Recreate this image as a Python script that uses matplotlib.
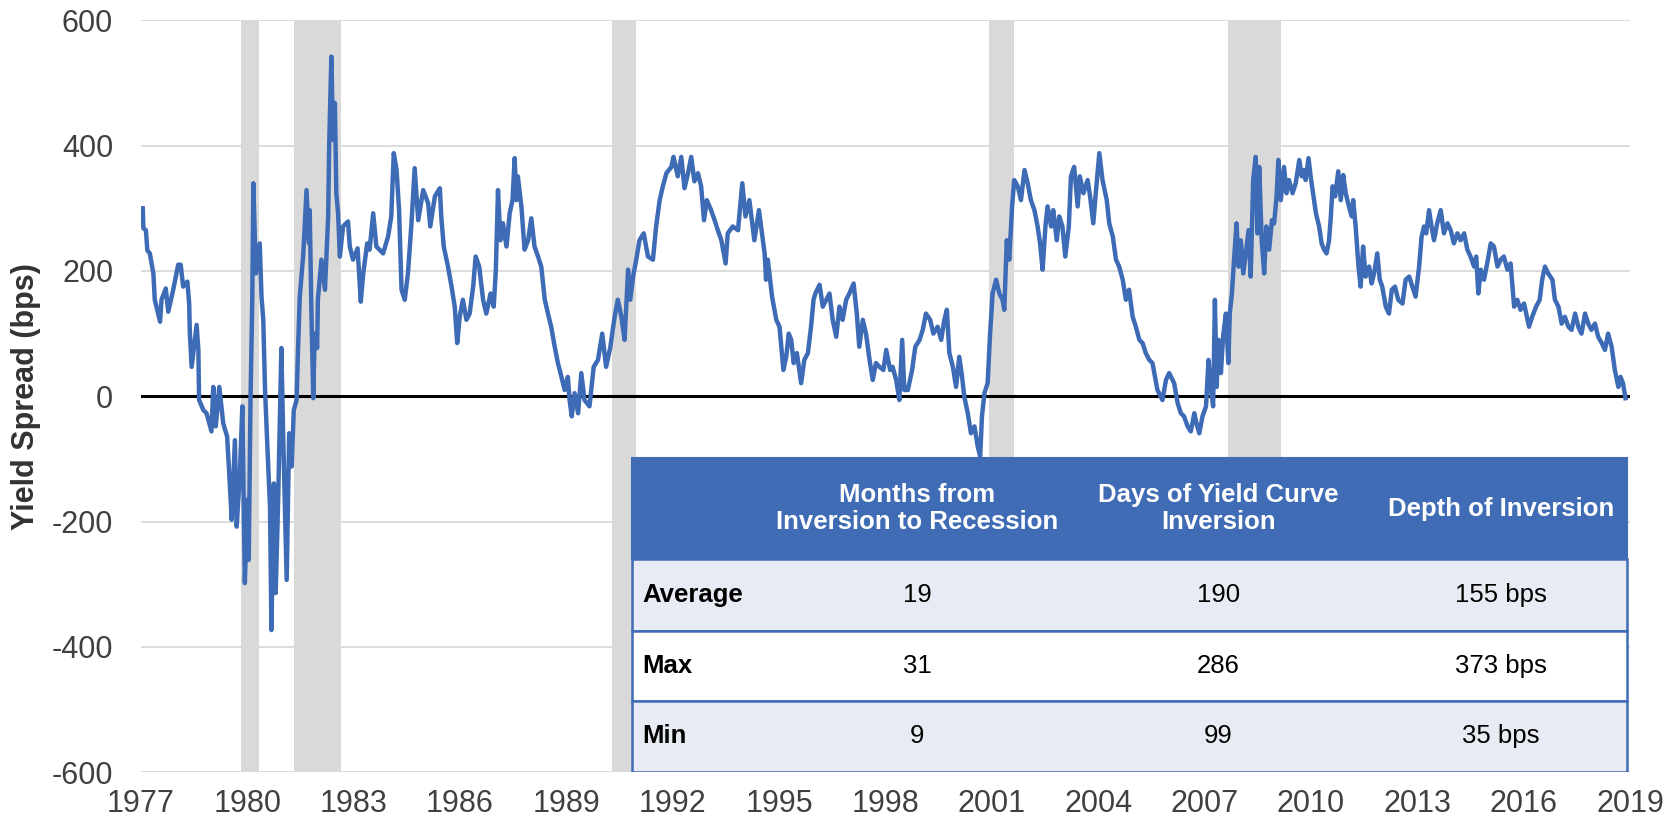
import matplotlib
matplotlib.use("Agg")
import matplotlib.pyplot as plt
from matplotlib.patches import Rectangle

plt.rcParams['font.family'] = ['Liberation Sans', 'DejaVu Sans']
plt.rcParams['axes.unicode_minus'] = False

# yield spread (bps)
years = [
    1977.05, 1977.07, 1977.14, 1977.18, 1977.25, 1977.35, 1977.39, 1977.54, 1977.58, 1977.70,
    1977.77, 1977.91, 1978.05, 1978.12, 1978.19, 1978.31, 1978.36, 1978.38, 1978.43, 1978.57,
    1978.62, 1978.64, 1978.76, 1978.85, 1978.99, 1979.04, 1979.11, 1979.21, 1979.32, 1979.43,
    1979.49, 1979.56, 1979.65, 1979.70, 1979.79, 1979.86, 1979.93, 1980.00, 1980.04, 1980.09,
    1980.14, 1980.17, 1980.24, 1980.35, 1980.40, 1980.45, 1980.50, 1980.57, 1980.64, 1980.68,
    1980.75, 1980.80, 1980.87, 1980.96, 1981.01, 1981.11, 1981.18, 1981.25, 1981.31, 1981.39,
    1981.43, 1981.48, 1981.58, 1981.67, 1981.74, 1981.76, 1981.81, 1981.86, 1981.90, 1981.97,
    1981.99, 1982.09, 1982.19, 1982.28, 1982.31, 1982.37, 1982.42, 1982.47, 1982.51, 1982.56,
    1982.61, 1982.70, 1982.84, 1982.89, 1982.98, 1983.11, 1983.20, 1983.27, 1983.38,
    1983.45, 1983.55, 1983.64, 1983.83, 1983.97, 1984.06, 1984.13, 1984.21, 1984.28, 1984.35,
    1984.44, 1984.53, 1984.63, 1984.72, 1984.82, 1984.96, 1985.10, 1985.16, 1985.29, 1985.43,
    1985.47, 1985.54, 1985.66, 1985.76, 1985.85, 1985.92, 1985.99, 1986.08, 1986.18, 1986.27,
    1986.37, 1986.44, 1986.54, 1986.65, 1986.74, 1986.86, 1986.95, 1987.01, 1987.07, 1987.14,
    1987.21, 1987.31, 1987.40, 1987.48, 1987.54, 1987.59, 1987.63, 1987.73, 1987.82, 1987.92,
    1988.01, 1988.10, 1988.20, 1988.29, 1988.39, 1988.48, 1988.57, 1988.67, 1988.76, 1988.86,
    1988.95, 1989.04, 1989.09, 1989.15, 1989.23, 1989.33, 1989.42, 1989.51, 1989.65, 1989.77,
    1989.89, 1990.01, 1990.12, 1990.24, 1990.36, 1990.45, 1990.55, 1990.64, 1990.74, 1990.80,
    1990.88, 1990.97, 1991.06, 1991.18, 1991.30, 1991.44, 1991.53, 1991.63, 1991.72, 1991.82,
    1991.96, 1992.02, 1992.14, 1992.24, 1992.33, 1992.43, 1992.52, 1992.61, 1992.71, 1992.80,
    1992.88, 1992.96, 1993.08, 1993.18, 1993.27, 1993.37, 1993.49, 1993.55, 1993.69, 1993.84,
    1993.96, 1994.05, 1994.16, 1994.30, 1994.43, 1994.49,
    1994.59, 1994.63, 1994.68, 1994.80, 1994.92, 1995.01, 1995.12, 1995.20, 1995.27, 1995.34,
    1995.41, 1995.50, 1995.62, 1995.71, 1995.81, 1995.90, 1995.97, 1996.02, 1996.14, 1996.23,
    1996.33, 1996.42, 1996.51, 1996.61, 1996.70, 1996.79, 1996.89, 1996.98, 1997.10, 1997.19,
    1997.26, 1997.36, 1997.45, 1997.55, 1997.64, 1997.73, 1997.83, 1997.94, 1998.02, 1998.13,
    1998.20, 1998.30, 1998.39, 1998.47, 1998.53, 1998.63, 1998.75, 1998.84, 1998.96, 1999.05,
    1999.14, 1999.26, 1999.35, 1999.47, 1999.57, 1999.66, 1999.73, 1999.80, 1999.90, 1999.99,
    2000.08, 2000.16, 2000.22, 2000.32, 2000.41, 2000.51, 2000.60, 2000.67, 2000.72, 2000.79,
    2000.88, 2000.95, 2001.02, 2001.12, 2001.21, 2001.30, 2001.35, 2001.42, 2001.49, 2001.57,
    2001.63, 2001.73, 2001.82, 2001.92, 2002.01, 2002.10, 2002.20, 2002.29, 2002.36, 2002.43,
    2002.51, 2002.57, 2002.67, 2002.73, 2002.83, 2002.90, 2002.99, 2003.07, 2003.17, 2003.23,
    2003.32, 2003.42, 2003.48, 2003.58, 2003.70, 2003.77, 2003.86, 2003.93, 2004.03, 2004.12,
    2004.24, 2004.31, 2004.41, 2004.50, 2004.59, 2004.69, 2004.78, 2004.87, 2004.97, 2005.06,
    2005.16, 2005.25, 2005.34, 2005.44, 2005.53, 2005.67,
    2005.81, 2005.91, 2006.00, 2006.14, 2006.24, 2006.33, 2006.42, 2006.52, 2006.61, 2006.71,
    2006.77, 2006.85, 2006.94, 2007.04, 2007.11, 2007.18, 2007.24, 2007.29, 2007.34, 2007.39,
    2007.46, 2007.52, 2007.60, 2007.67, 2007.71, 2007.77, 2007.83, 2007.90, 2007.96, 2008.02,
    2008.09, 2008.16, 2008.24, 2008.30, 2008.37, 2008.44, 2008.49, 2008.54, 2008.61, 2008.68,
    2008.74, 2008.82, 2008.90, 2008.96, 2009.03, 2009.08, 2009.15, 2009.24, 2009.31, 2009.38,
    2009.48, 2009.57, 2009.67, 2009.74, 2009.81, 2009.85, 2009.93, 2009.99, 2010.06, 2010.14,
    2010.23, 2010.30, 2010.37, 2010.44, 2010.51, 2010.56, 2010.61, 2010.68, 2010.77, 2010.84,
    2010.91, 2010.98, 2011.07, 2011.15, 2011.19, 2011.26, 2011.34, 2011.40, 2011.47, 2011.54,
    2011.64, 2011.71, 2011.78, 2011.87, 2011.94, 2012.01, 2012.11, 2012.20, 2012.28, 2012.37,
    2012.46, 2012.58, 2012.67, 2012.77, 2012.86, 2012.95, 2013.05, 2013.12, 2013.19, 2013.25,
    2013.33, 2013.40, 2013.47, 2013.56, 2013.66, 2013.75, 2013.85, 2013.94, 2014.03, 2014.13,
    2014.22, 2014.32, 2014.41, 2014.50, 2014.60, 2014.66, 2014.72, 2014.79, 2014.88, 2014.97,
    2015.07, 2015.16, 2015.26, 2015.35, 2015.44, 2015.54, 2015.63, 2015.73, 2015.82, 2015.91,
    2016.01, 2016.15, 2016.24, 2016.35, 2016.45, 2016.52, 2016.60, 2016.69, 2016.81, 2016.88,
    2016.98, 2017.07, 2017.16, 2017.26, 2017.35, 2017.45, 2017.54, 2017.63, 2017.73, 2017.82,
    2017.91, 2018.01, 2018.10, 2018.20, 2018.29, 2018.38, 2018.48, 2018.57, 2018.67, 2018.73,
    2018.80, 2018.87,
]
spread_bps = [
    300, 268, 265, 233, 228, 196, 154, 119, 154, 172,
    135, 170, 210, 210, 175, 183, 148, 100, 47, 114,
    74, -6, -22, -27, -56, 15, -48, 15, -43, -64,
    -123, -197, -70, -208, -123, -16, -298, -165, -261, -6,
    154, 340, 196, 244, 159, 122, 10, -86, -176, -373,
    -139, -314, -165, 77, -59, -293, -59, -112, -22, -6,
    74, 159, 228, 329, 244, 297, 127, -3, 100, 77,
    154, 218, 170, 287, 404, 542, 409, 468, 324, 292,
    223, 271, 279, 239, 218, 236, 151, 196, 244,
    234, 292, 239, 228, 255, 287, 388, 361, 297, 170,
    154, 196, 276, 364, 281, 329, 308, 271, 319, 332,
    287, 239, 207, 175, 143, 85, 127, 154, 122, 132,
    175, 223, 207, 154, 132, 164, 143, 202, 329, 249,
    276, 239, 292, 313, 380, 313, 351, 303, 234, 249,
    284, 239, 223, 207, 154, 132, 111, 79, 53, 31,
    10, 31, -6, -32, 5, -27, 37, -6, -16, 47,
    58, 100, 47, 79, 127, 154, 127, 90, 202, 154,
    191, 218, 249, 260, 223, 218, 271, 313, 335, 356,
    366, 382, 351, 382, 332, 356, 382, 343, 356, 335,
    281, 313, 297, 281, 265, 249, 212, 260, 271, 265,
    340, 287, 313, 249, 297, 271,
    228, 186, 218, 159, 122, 111, 42, 63, 100, 90,
    53, 69, 21, 58, 69, 111, 154, 164, 178, 143,
    154, 164, 122, 95, 143, 122, 154, 164, 180, 132,
    79, 122, 100, 58, 26, 53, 47, 42, 74, 42,
    47, 26, -6, 90, 10, 10, 42, 79, 90, 106,
    132, 122, 100, 111, 90, 122, 138, 69, 47, 15,
    63, 31, 0, -27, -59, -48, -80, -96, -32, 5,
    21, 100, 164, 186, 164, 154, 138, 249, 218, 303,
    345, 335, 313, 361, 340, 313, 297, 271, 244, 202,
    271, 303, 271, 297, 249, 287, 271, 223, 271, 351,
    366, 303, 351, 324, 345, 319, 276, 324, 388, 345,
    313, 276, 255, 218, 207, 186, 154, 170, 127, 111,
    90, 85, 69, 58, 53, 10,
    -6, 26, 37, 21, -11, -27, -32, -48, -56, -27,
    -43, -59, -32, -16, 58, 10, -16, 154, 15, 90,
    37, 95, 132, 53, 132, 164, 218, 276, 207, 249,
    196, 228, 265, 191, 345, 382, 260, 366, 249, 196,
    271, 234, 281, 276, 319, 377, 313, 366, 324, 345,
    324, 340, 377, 351, 361, 345, 380, 351, 324, 292,
    271, 244, 234, 228, 249, 287, 335, 319, 359, 313,
    353, 324, 303, 287, 313, 271, 207, 175, 239, 191,
    207, 180, 196, 228, 186, 175, 143, 132, 170, 175,
    154, 148, 186, 191, 175, 159, 207, 255, 271, 260,
    297, 271, 249, 276, 297, 260, 276, 265, 244, 260,
    249, 260, 234, 223, 207, 223, 164, 202, 186, 212,
    244, 239, 207, 218, 223, 202, 212, 143, 154, 138,
    148, 111, 127, 143, 154, 186, 207, 196, 186, 154,
    143, 116, 127, 111, 106, 132, 111, 100, 132, 116,
    106, 116, 95, 85, 74, 100, 79, 42, 15, 31,
    21, -3,
]

# recession shading (start, end) in fractional years
rec_start = [1979.82, 1981.31, 1990.29, 2000.93, 2007.66]
rec_end = [1980.33, 1982.65, 1990.95, 2001.61, 2009.15]

# summary table
col_headers = ["Months from\nInversion to Recession", "Days of Yield Curve\nInversion", "Depth of Inversion"]
row_labels = ["Average", "Max", "Min"]
months_col = ["19", "31", "9"]
days_col = ["190", "286", "99"]
depth_col = ["155 bps", "373 bps", "35 bps"]

blue = '#3f6cb4'
line_blue = '#3e6bb5'
grid_gray = '#d9d9d9'

fig = plt.figure(figsize=(16.76, 8.27), dpi=100)
ax = fig.add_axes([0.0841, 0.0661, 0.8885, 0.9094])

for s, e in zip(rec_start, rec_end):
    ax.axvspan(s, e, color=grid_gray, lw=0, zorder=0)

ax.plot(years, spread_bps, color=line_blue, lw=3.2, zorder=3, solid_joinstyle='round')
ax.axhline(0, color='black', lw=2.2, zorder=2)

ax.set_xlim(1977, 2019)
ax.set_ylim(-600, 600)
ax.set_xticks(range(1977, 2020, 3))
ax.set_yticks(range(-600, 601, 200))
ax.grid(axis='y', color=grid_gray, lw=1.3)
ax.set_axisbelow(True)
for sp in ax.spines.values():
    sp.set_visible(False)
ax.tick_params(axis='both', length=0, labelsize=22, labelcolor='#404040')
ax.tick_params(axis='y', pad=20)
ax.tick_params(axis='x', pad=12)

fig.text(26 / 1676, 0.521, "Yield Spread (bps)", rotation=90, ha='center', va='center',
         fontsize=22, fontweight='bold', color='#333333')

# table drawn in data coordinates over the lower right of the plot
t_left, t_right = 1990.84, 2018.9
head_top, head_bot = -98.5, -259.6
row_edges = [-259.6, -374.5, -486.0, -599.0]
col_x = [1998.9, 2007.38, 2015.36]
label_x = 1991.15
row_colors = ['#e8ebf3', 'white', '#e8ebf3']

ax.add_patch(Rectangle((t_left, head_bot), t_right - t_left, head_top - head_bot,
                       facecolor=blue, edgecolor=blue, lw=1.5, zorder=5))
for i, h in enumerate(col_headers):
    ax.text(col_x[i], (head_top + head_bot) / 2, h, ha='center', va='center',
            fontsize=18.5, fontweight='bold', color='white', zorder=6, linespacing=1.2)

cols = [months_col, days_col, depth_col]
for r in range(3):
    top, bot = row_edges[r], row_edges[r + 1]
    ax.add_patch(Rectangle((t_left, bot), t_right - t_left, top - bot,
                           facecolor=row_colors[r], edgecolor=blue, lw=1.8, zorder=5))
    yc = (top + bot) / 2
    ax.text(label_x, yc, row_labels[r], ha='left', va='center', fontsize=18.5,
            fontweight='bold', color='black', zorder=6)
    for c in range(3):
        ax.text(col_x[c], yc, cols[c][r], ha='center', va='center', fontsize=18.5,
                color='black', zorder=6)

fig.savefig('out.png', dpi=100)
